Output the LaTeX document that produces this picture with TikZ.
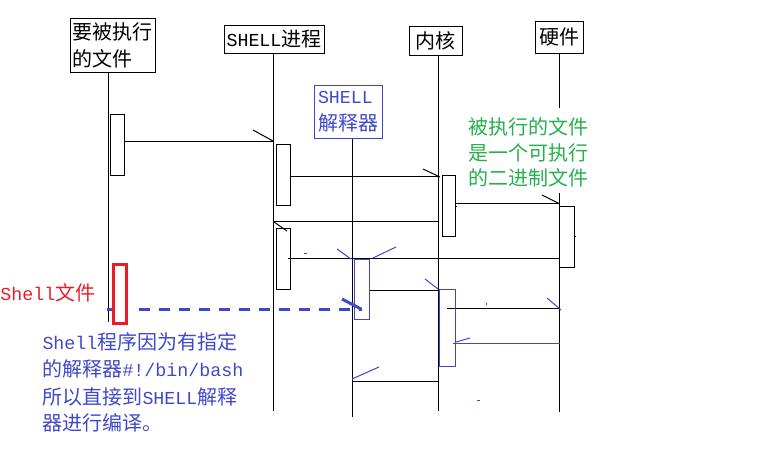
\documentclass[tikz,border=0pt]{standalone}
\usepackage{fontspec}
\setmainfont{Noto Sans CJK SC}
\newfontfamily\lat{Liberation Mono}
\newcommand\La[1]{{\lat\fontsize{18.3pt}{27pt}\selectfont #1}}
\definecolor{pind}{RGB}{63,72,204}
\definecolor{pred}{RGB}{237,28,36}
\definecolor{pgreen}{RGB}{34,177,76}
\begin{document}
\begin{tikzpicture}[x=1pt,y=-1pt,line width=1pt,
  hdr/.style={draw,inner sep=0pt,align=left,font=\fontsize{20pt}{27pt}\selectfont},
  lbl/.style={inner sep=0pt,anchor=west,font=\fontsize{20pt}{27pt}\selectfont},
  act/.style={draw,fill=white}]
\useasboundingbox (0,0) rectangle (771,467);
% headers
\node[hdr,minimum width=85pt,minimum height=54pt] (file) at (112.5,45) {要被执行\\的文件};
\node[hdr,minimum width=100pt,minimum height=28pt] (proc) at (274,39) {\La{SHELL}进程};
\node[hdr,minimum width=53pt,minimum height=29pt] (kern) at (435.5,40.5) {内核};
\node[hdr,minimum width=48pt,minimum height=32pt] (hw) at (559,37) {硬件};
\node[hdr,draw=pind,text=pind,minimum width=68pt,minimum height=53pt] (interp) at (348,111.5) {\La{SHELL}\\解释器};
% lifeline ends
\coordinate (e1) at (108,322);
\coordinate (e2) at (273,411);
\coordinate (e3) at (352,417);
\coordinate (e4) at (438,411);
\coordinate (h1) at (559,108);
\coordinate (h2) at (559,193);
\coordinate (e5) at (559,412);
\draw (file.south -| e1) -- (e1);
\draw (proc.south -| e2) -- (e2);
\draw (interp.south -| e3) -- (e3);
\draw (kern.south -| e4) -- (e4);
\draw (hw.south -| h1) -- (h1);
\draw (h2) -- (e5);
% activation boxes
\draw (110,114) rectangle (124,175);
\draw (276,144) rectangle (290,205);
\draw (442,175) rectangle (455,236);
\draw (559,206) -- (574,206) -- (574,267) -- (559,267);
\draw (574,236) -- (576,236);
\draw (276,228) rectangle (290,289);
% messages
\draw (124,141) -- (273,141);
\draw (253,130) -- (273,141);
\draw (290,176) -- (438,176);
\draw (423,169) -- (440,177);
\draw (455,203) -- (559,203);
\draw (542,195) -- (560,204);
\draw (455,206) -- (457,206);
\draw (439,221) -- (273,221);
\draw (274,222) -- (287,231);
\draw (288,258) -- (560,258);
\draw (370,290) -- (438,290);
\draw (447,308) -- (560,308);
\draw (438,381) -- (352,381);
% blue parts
\begin{scope}[pind]
\draw (354,259) rectangle (369,319);
\draw (439,289) rectangle (455,366);
\draw (337,249) -- (351,259);
\draw (373,258) -- (396,247);
\draw (304,253) -- (307,253);
\draw (425,279) -- (438,289);
\draw (547,298) -- (561,310);
\draw (486,303) -- (486,305);
\draw (560,343) -- (453,343);
\draw (456,342) -- (470,338);
\draw (477,400) -- (480,400);
\draw (352,379) -- (379,367);
\draw[line width=3pt] (107,309) -- (112,309);
\draw[line width=3pt,dash pattern=on 11pt off 9pt] (139,309) -- (362,309);
\draw[line width=3pt] (342,299) -- (361,309);
\end{scope}
% red box
\draw[pred,line width=2.7pt,fill=white] (113.5,264.5) rectangle (126.5,323.5);
% texts
\node[lbl,text=pred] (shellf) at (0,293) {\La{Shell}文件};
\node[lbl,text=pgreen] (g1) at (468,127) {被执行的文件};
\node[lbl,text=pgreen] (g2) at (468,153) {是一个可执行};
\node[lbl,text=pgreen] (g3) at (468,178) {的二进制文件};
\node[lbl,text=pind] (b1) at (42,342) {\La{Shell}程序因为有指定};
\node[lbl,text=pind] (b2) at (42,369) {的解释器\La{\#!/bin/bash}};
\node[lbl,text=pind] (b3) at (42,397) {所以直接到\La{SHELL}解释};
\node[lbl,text=pind] (b4) at (42,423) {器进行编译。};
\end{tikzpicture}
\end{document}
